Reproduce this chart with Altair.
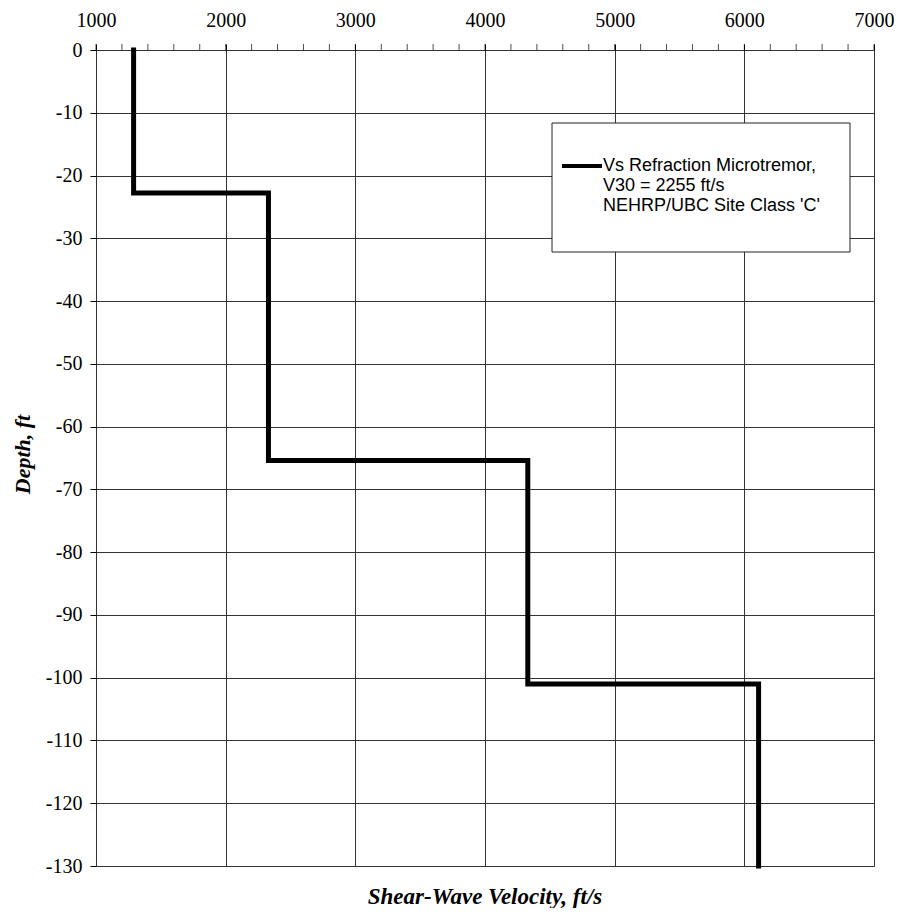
import altair as alt
import pandas as pd

# Layered velocity profile
velocities = [1290, 2330, 4330, 6110]          # ft/s
layer_tops = [0, -22.8, -65.4, -101.0]         # ft
layer_bottoms = [-22.8, -65.4, -101.0, -130.0]  # ft

x_ticks = [1000, 2000, 3000, 4000, 5000, 6000, 7000]
y_ticks = [0, -10, -20, -30, -40, -50, -60, -70, -80, -90, -100, -110, -120, -130]

legend_lines = ["Vs Refraction Microtremor,", "V30 = 2255 ft/s", "NEHRP/UBC Site Class 'C'"]

# Build step path from the layer arrays
rows = []
order = 0
for v, top, bot in zip(velocities, layer_tops, layer_bottoms):
    rows.append({"v": v, "d": top, "o": order}); order += 1
    rows.append({"v": v, "d": bot, "o": order}); order += 1
df = pd.DataFrame(rows)

W, H = 778, 816
SERIF = "Liberation Serif"
SANS = "Liberation Sans"

x_scale = alt.Scale(domain=[1000, 7000], nice=False, zero=False)
y_scale = alt.Scale(domain=[-130, 0], nice=False, zero=False)

x_axis = alt.Axis(orient="top", values=x_ticks, title=None,
                  labelExpr="datum.value + ''", labelFlush=False,
                  labelFont=SERIF, labelFontSize=20, labelColor="black",
                  labelPadding=14, tickColor="black", tickSize=6,
                  domain=False, grid=True, gridColor="#333", gridWidth=1)

line = alt.Chart(df).mark_line(color="black", strokeWidth=5, strokeJoin="miter", strokeCap="square").encode(
    x=alt.X("v:Q", scale=x_scale, axis=x_axis),
    y=alt.Y("d:Q", scale=y_scale,
            axis=alt.Axis(values=y_ticks, title="Depth, ft",
                          labelExpr="datum.value + ''", labelFlush=False,
                          labelFont=SERIF, labelFontSize=20, labelColor="black",
                          labelPadding=8, tickColor="black", tickSize=6,
                          titleFont=SERIF, titleFontSize=22, titleFontStyle="italic",
                          titleFontWeight="bold", titleColor="black",
                          titleX=-74, titleY=H / 2 - 4, titleAngle=270,
                          titleAlign="center", titleBaseline="middle",
                          domain=False, grid=True, gridColor="#333", gridWidth=1)),
    order="o:Q",
)

# minor ticks on top axis
minor_df = pd.DataFrame({"v": list(range(1000, 7001, 200))})
minor = alt.Chart(minor_df).mark_tick(color="black", thickness=1, size=6, yOffset=-3).encode(
    x=alt.X("v:Q", scale=x_scale, axis=x_axis),
    y=alt.value(0),
)

# legend box
one = pd.DataFrame({"t": ["\n".join(legend_lines)]})
box = alt.Chart(one).mark_rect(
    fill="white", stroke="#222", strokeWidth=1
).encode(x=alt.value(456), x2=alt.value(754), y=alt.value(73), y2=alt.value(202))
sample = alt.Chart(one).mark_rule(color="black", strokeWidth=4).encode(
    x=alt.value(466), x2=alt.value(506), y=alt.value(116))
texts = alt.Chart(one).mark_text(
    font=SANS, fontSize=18, align="left", baseline="middle", color="black",
    lineBreak="\n", lineHeight=20,
).encode(
    x=alt.value(507),
    y=alt.value(116),
    text="t:N",
)

chart = alt.layer(line, minor, box, sample, texts).properties(
    width=W, height=H,
    title=alt.TitleParams(
        "Shear-Wave Velocity, ft/s", orient="bottom", font=SERIF, fontSize=23,
        fontStyle="italic", fontWeight="bold", color="black", offset=10, anchor="middle"),
    autosize=alt.AutoSizeParams(type="none"),
    padding={"left": 88, "top": 42, "right": 20, "bottom": 42},
).configure_view(
    stroke="black", strokeWidth=1.5
).configure(background="white")

chart.save("out.html", embed_options={"renderer": "svg", "actions": False})
